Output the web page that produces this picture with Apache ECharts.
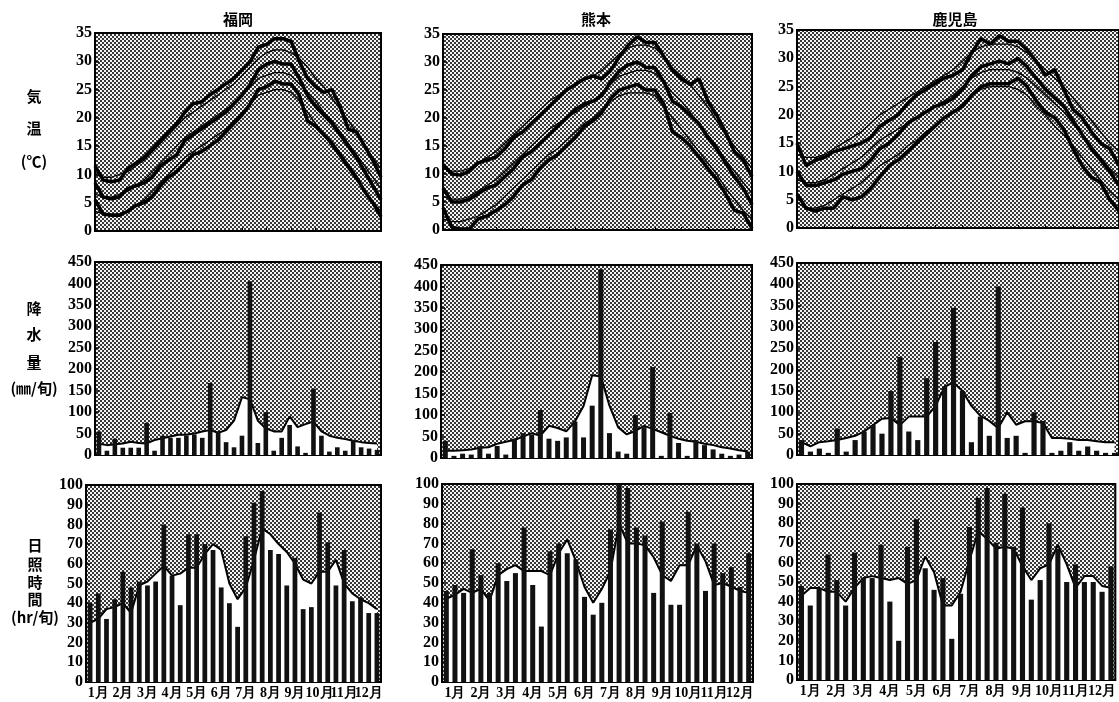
<!DOCTYPE html>
<html>
<head>
<meta charset="utf-8">
<script src="https://cdn.jsdelivr.net/npm/echarts@6/dist/echarts.min.js"></script>
<style>
  html, body { margin: 0; padding: 0; background: #fff; }
  #chart { width: 1119px; height: 702px; }
</style>
</head>
<body>
<div id="chart"></div>
<script>
// 旬別の気候図 (福岡・熊本・鹿児島)
var months = ['1月', '2月', '3月', '4月', '5月', '6月', '7月', '8月', '9月', '10月', '11月', '12月'];
var dekads = [];
months.forEach(function (m) {
  ['上旬', '中旬', '下旬'].forEach(function (d) { dekads.push(m + d); });
});
var stations = ['福岡', '熊本', '鹿児島'];

// 気温 (℃) 太線 = その年, 細線 = 平年
var fukuokaMax = [11.5, 9, 8.7, 9, 11, 12, 13, 14.5, 16, 17.5, 19, 21, 22.5, 22.8, 24, 25, 26, 27, 28.5, 30, 32.5, 33, 34, 34, 33.5, 30, 27, 25.5, 24.5, 25, 22, 18, 17.5, 15, 12.5, 9.5];
var fukuokaMean = [8.5, 6, 5.7, 6, 7.5, 8, 8.5, 9.5, 11.5, 12.5, 13.5, 16, 17, 18, 19, 20, 21, 22.5, 24, 26, 28.5, 29.5, 30, 29.5, 29.5, 27, 24, 22, 20.5, 19, 17, 15, 13, 10.5, 8, 5.5];
var fukuokaMin = [5.5, 3, 2.8, 2.8, 3.5, 4.5, 5, 6, 8, 9.5, 10.5, 12, 13.5, 14, 15, 16, 17.5, 19, 20.5, 22.5, 25, 25.5, 26.5, 26, 26, 24, 19.5, 18.5, 17, 15.5, 13.5, 11.5, 9.5, 7, 5, 2.5];
var fukuokaMaxNormal = [10, 9.5, 9.5, 10, 10.5, 11.5, 12.5, 14, 15.5, 17, 18.5, 20, 21, 22, 23, 24, 25, 26, 27.5, 29, 30.5, 31.5, 32, 32, 31.5, 30.5, 29, 27, 25.5, 23.5, 21.5, 19.5, 17.5, 15, 13, 11];
var fukuokaMeanNormal = [6.5, 6, 6, 6.5, 7, 8, 9, 10.5, 12, 13.5, 15, 16.5, 17.5, 18.5, 19.5, 20.5, 21.5, 22.5, 24, 25.5, 27, 27.5, 28, 28, 27.5, 26, 24.5, 23, 21, 19.5, 17.5, 15.5, 13.5, 11.5, 9.5, 7.5];
var fukuokaMinNormal = [3.5, 3, 3, 3, 3.5, 4.5, 5.5, 7, 8.5, 10, 11.5, 13, 14, 15, 16, 17, 18, 19.5, 21, 22.5, 24, 24.5, 25, 25, 24.5, 23, 21, 19, 17, 15, 13, 11, 9, 7, 5, 3.5];

var kumamotoMax = [11.7, 10, 9.8, 10.5, 12, 12.5, 13, 14.5, 16.5, 17.5, 19, 20.5, 22, 23.5, 25, 26, 27, 27.5, 27, 28.5, 31, 33, 34.5, 33.5, 33.5, 31, 28.5, 27, 26, 27, 23, 20.5, 17.5, 14, 12.5, 9.5];
var kumamotoMean = [7.5, 5, 5, 5.5, 6.5, 7.5, 8, 9.5, 11, 13, 14, 15.5, 17, 18.5, 20, 21.5, 22.5, 23, 24, 26.5, 28.5, 29.5, 30, 29, 29, 26.5, 23, 22, 20.5, 19, 16.5, 14.5, 12, 9.5, 7.5, 4.5];
var kumamotoMin = [4, 0.5, 0.2, 0.2, 2, 2.5, 3.5, 4.5, 6, 8, 9, 11, 12.5, 13.5, 15, 16.5, 18.5, 19.5, 21, 23.5, 25, 25.5, 26, 25, 25, 22.5, 17.5, 16.5, 15, 13, 11, 9, 6.5, 3.5, 3, 0.3];
var kumamotoMaxNormal = [11, 10.5, 10.5, 11, 12, 13, 14, 15.5, 17, 18.5, 20, 21.5, 23, 24, 25, 26, 27, 27.5, 28.5, 30, 31.5, 32.5, 33, 33, 32.5, 31, 29, 27.5, 26, 24, 22, 19.5, 17, 15, 13, 11];
var kumamotoMeanNormal = [6, 5.5, 5.5, 6, 7, 8, 9, 10.5, 12, 13.5, 15, 16.5, 18, 19, 20, 21, 22, 23, 24.5, 26, 27.5, 28, 28.5, 28.5, 28, 26.5, 24.5, 23, 21, 19, 17, 15, 12.5, 10.5, 8.5, 6.5];
var kumamotoMinNormal = [2, 1.5, 1.5, 2, 2.5, 3.5, 4.5, 6, 7.5, 9, 10.5, 12, 13.5, 14.5, 16, 17.5, 19, 20, 21.5, 23, 24, 24.5, 24.5, 24.5, 24, 22, 20, 18, 16, 14, 12, 10, 7.5, 5.5, 3.5, 2];

var kagoshimaMax = [15, 11, 12, 12.5, 13.5, 14, 14.5, 15, 16, 18, 19, 20, 22, 23.5, 24.5, 25.5, 26.5, 27, 28, 31, 33.5, 32.5, 34, 33, 33, 31.5, 29.5, 27, 28, 24.5, 21, 19.5, 17, 15, 14, 11];
var kagoshimaMean = [10, 7.5, 7.5, 8, 8.5, 9.5, 10, 10.5, 12, 14, 15, 16.5, 18.5, 19.5, 20.5, 21.5, 22, 23, 24.5, 27, 28.5, 29, 29.5, 29, 30, 28.5, 26.5, 24.5, 23, 21.5, 19, 16.5, 14, 12, 10, 7.5];
var kagoshimaMin = [6, 3.5, 3, 3.5, 3.5, 5.5, 5, 5.5, 7, 9, 11, 12, 13.5, 15, 16.5, 18, 19.5, 20.5, 21.5, 23.5, 25, 25.5, 25.5, 25.5, 26.5, 25, 22.5, 20.5, 19.5, 17.5, 14, 11, 9, 8, 5, 3];
var kagoshimaMaxNormal = [13, 12.5, 12.5, 13, 14, 15, 16, 17, 18.5, 20, 21, 22, 23, 24, 25, 26, 27, 28, 29.5, 31, 32, 32.5, 32.5, 32.5, 32, 31, 29.5, 28, 26.5, 25, 23, 21, 19, 17, 15, 13.5];
var kagoshimaMeanNormal = [8.5, 8, 8, 8.5, 9.5, 10.5, 11.5, 12.5, 14, 15.5, 16.5, 17.5, 18.5, 19.5, 20.5, 21.5, 22.5, 23.5, 25, 26.5, 27.5, 28, 28, 28, 27.5, 26.5, 25, 23.5, 22, 20.5, 18.5, 16.5, 14.5, 12.5, 10.5, 9];
var kagoshimaMinNormal = [4.5, 3.5, 3.5, 4, 5, 6, 7, 8, 9.5, 11, 12, 13, 14.5, 15.5, 17, 18, 19.5, 20.5, 22, 23.5, 24.5, 25, 25, 25, 24.5, 23.5, 21.5, 20, 18, 16.5, 14.5, 12.5, 10.5, 8.5, 6.5, 5];

// 降水量 (mm/旬) 棒 = その年, 線 = 平年
var fukuokaRain = [55, 10, 38, 17, 17, 17, 75, 10, 45, 40, 40, 45, 48, 40, 168, 55, 30, 18, 45, 405, 28, 100, 10, 40, 70, 20, 5, 155, 45, 8, 18, 10, 35, 18, 15, 12];
var fukuokaRainNormal = [26, 23, 25, 27, 31, 28, 27, 35, 39, 43, 47, 47, 50, 55, 58, 52, 58, 80, 135, 130, 80, 62, 55, 55, 90, 65, 72, 78, 55, 45, 40, 37, 33, 30, 28, 27];
var kumamotoRain = [40, 5, 10, 8, 28, 10, 28, 8, 45, 58, 55, 112, 45, 40, 48, 85, 48, 122, 440, 58, 15, 10, 100, 72, 212, 5, 105, 35, 5, 42, 30, 20, 10, 5, 8, 15];
var kumamotoRainNormal = [17, 17, 18, 20, 24, 25, 33, 38, 42, 50, 58, 52, 75, 70, 62, 85, 121, 193, 190, 122, 72, 55, 63, 75, 68, 60, 52, 45, 40, 38, 33, 30, 25, 22, 18, 15];
var kagoshimaRain = [35, 8, 15, 5, 62, 8, 35, 55, 70, 50, 150, 230, 55, 35, 180, 265, 160, 345, 150, 30, 90, 45, 395, 40, 45, 5, 100, 80, 5, 10, 30, 10, 20, 10, 5, 5];
var kagoshimaRainNormal = [30, 20, 30, 32, 35, 40, 45, 55, 70, 85, 87, 70, 90, 90, 90, 115, 160, 170, 150, 115, 92, 80, 63, 100, 71, 79, 79, 75, 40, 40, 38, 35, 35, 32, 30, 30];

// 日照時間 (hr/旬)
var fukuokaSun = [40, 45, 32, 42, 56, 48, 51, 49, 51, 80, 54, 39, 75, 75, 70, 67, 48, 40, 28, 74, 91, 97, 67, 65, 49, 63, 37, 38, 86, 71, 49, 67, 41, 43, 35, 35];
var fukuokaSunNormal = [30, 32, 37, 38, 40, 35, 49, 51, 55, 59, 54, 55, 58, 58, 65, 70, 67, 50, 42, 48, 62, 78, 75, 70, 66, 60, 52, 50, 56, 56, 62, 50, 45, 42, 40, 37];
var kumamotoSun = [46, 49, 45, 67, 54, 45, 60, 51, 55, 78, 49, 28, 66, 70, 65, 62, 43, 34, 40, 77, 100, 98, 78, 74, 45, 81, 39, 39, 86, 70, 46, 70, 55, 58, 48, 65];
var kumamotoSunNormal = [42, 44, 47, 45, 47, 41, 54, 57, 59, 56, 56, 56, 54, 65, 72, 61, 48, 40, 47, 56, 80, 70, 70, 69, 63, 54, 51, 59, 59, 69, 61, 49, 50, 48, 46, 45];
var kagoshimaSun = [48, 38, 47, 64, 51, 38, 65, 52, 52, 69, 40, 20, 68, 82, 57, 46, 52, 21, 44, 78, 93, 98, 70, 95, 68, 88, 41, 51, 80, 67, 50, 59, 50, 50, 45, 58];
var kagoshimaSunNormal = [43, 47, 47, 45, 45, 40, 47, 52, 53, 52, 51, 52, 49, 51, 63, 55, 38, 38, 45, 61, 76, 72, 67, 68, 67, 58, 51, 57, 59, 69, 59, 47, 53, 53, 48, 47];

var tempSets = [
  [fukuokaMax, fukuokaMean, fukuokaMin, fukuokaMaxNormal, fukuokaMeanNormal, fukuokaMinNormal],
  [kumamotoMax, kumamotoMean, kumamotoMin, kumamotoMaxNormal, kumamotoMeanNormal, kumamotoMinNormal],
  [kagoshimaMax, kagoshimaMean, kagoshimaMin, kagoshimaMaxNormal, kagoshimaMeanNormal, kagoshimaMinNormal]
];
var rainSets = [[fukuokaRain, fukuokaRainNormal], [kumamotoRain, kumamotoRainNormal], [kagoshimaRain, kagoshimaRainNormal]];
var sunSets = [[fukuokaSun, fukuokaSunNormal], [kumamotoSun, kumamotoSunNormal], [kagoshimaSun, kagoshimaSunNormal]];

// パネル位置 [left, top, right, bottom] (px) : 行 = 気温/降水量/日照, 列 = 地点
var boxes = [
  [[95, 33, 381, 231], [443, 34, 752, 230], [797, 30, 1121, 228]],
  [[95, 262, 381, 455], [441, 265, 752, 458], [797, 263, 1121, 455]],
  [[86, 485, 381, 682], [442, 484, 753, 682], [797, 484, 1121, 680]]
];
var yRanges = [[0, 35, 5], [0, 450, 50], [0, 100, 10]];

var numFont = 'Liberation Serif';
var jpFont = "'Noto Sans CJK JP', sans-serif";

// 網かけ (スクリーントーン風)
function dotPattern() {
  var c = document.createElement('canvas');
  c.width = 4;
  c.height = 4;
  var g = c.getContext('2d');
  g.fillStyle = '#f4f4f4';
  g.fillRect(0, 0, 4, 4);
  g.fillStyle = '#383838';
  g.fillRect(0, 0, 2, 2);
  g.fillRect(2, 2, 2, 2);
  return c;
}
var tone = { image: dotPattern(), repeat: 'repeat' };

var grids = [], xAxes = [], yAxes = [], series = [];

for (var row = 0; row < 3; row++) {
  for (var col = 0; col < 3; col++) {
    var idx = row * 3 + col;
    var b = boxes[row][col];
    grids.push({
      left: b[0], top: b[1], width: b[2] - b[0], height: b[3] - b[1],
      show: true, backgroundColor: tone, borderColor: '#000', borderWidth: 2
    });
    xAxes.push({
      type: 'category', gridIndex: idx, data: dekads,
      boundaryGap: row !== 0,
      axisLine: { show: false },
      axisTick: row === 0
        ? { show: true, inside: true, length: 3, interval: function (i) { return i % 3 === 0; }, lineStyle: { color: '#000' } }
        : { show: false },
      // 月名は中旬の位置にだけ出す (interval 0 なので端のラベルは自動で消されない)
      axisLabel: row === 2 ? {
        show: true, interval: 0,
        formatter: function (v, i) { return i % 3 === 1 ? v.replace(/[上中下]旬/, '') : ''; },
        fontFamily: numFont, fontWeight: 'bold', fontSize: 14, color: '#000', margin: 4
      } : { show: false },
      splitLine: { show: false }
    });
    var yr = yRanges[row];
    yAxes.push({
      type: 'value', gridIndex: idx, min: yr[0], max: yr[1], interval: yr[2],
      axisLine: { show: false },
      axisTick: { show: true, inside: true, length: 4, lineStyle: { color: '#000', width: 1.5 } },
      splitLine: { show: false },
      axisLabel: { fontFamily: numFont, fontWeight: 'bold', fontSize: 16, color: '#000', margin: 3 }
    });

    if (row === 0) {
      tempSets[col].forEach(function (arr, k) {
        series.push({
          type: 'line', xAxisIndex: idx, yAxisIndex: idx, data: arr,
          symbol: 'none', z: k < 3 ? 2 : 3,
          lineStyle: { color: '#000', width: k < 3 ? 3.5 : 1.3 }
        });
      });
    } else {
      var set = row === 1 ? rainSets[col] : sunSets[col];
      series.push({
        type: 'line', xAxisIndex: idx, yAxisIndex: idx, data: set[1],
        symbol: 'none', z: 2,
        lineStyle: { color: '#000', width: 2 },
        areaStyle: { color: '#fff', opacity: 1 }
      });
      series.push({
        type: 'bar', xAxisIndex: idx, yAxisIndex: idx, data: set[0],
        barWidth: '58%', z: 3,
        itemStyle: { color: '#111' }
      });
    }
  }
}

// 見出し・縦書きの軸名
var graphics = [];
var titleX = [238, 596, 955];
stations.forEach(function (s, i) {
  graphics.push({ type: 'text', x: titleX[i], y: 12, style: { text: s, fill: '#000', font: 'bold 15px ' + jpFont, textAlign: 'center' } });
});
function vlabel(x, ys, chars) {
  chars.forEach(function (t, i) {
    graphics.push({ type: 'text', x: x, y: ys[i], style: { text: t, fill: '#000', font: 'bold 15px ' + jpFont, textAlign: 'center', textVerticalAlign: 'middle' } });
  });
}
vlabel(34, [96, 128, 161], ['気', '温', '(℃)']);
vlabel(34, [308, 334, 362, 388], ['降', '水', '量', '(㎜/旬)']);
vlabel(35, [545, 564, 582, 599, 617], ['日', '照', '時', '間', '(hr/旬)']);

var chart = echarts.init(document.getElementById('chart'));
chart.setOption({
  animation: false,
  backgroundColor: '#fff',
  grid: grids,
  xAxis: xAxes,
  yAxis: yAxes,
  series: series,
  graphic: graphics
});
</script>
</body>
</html>
